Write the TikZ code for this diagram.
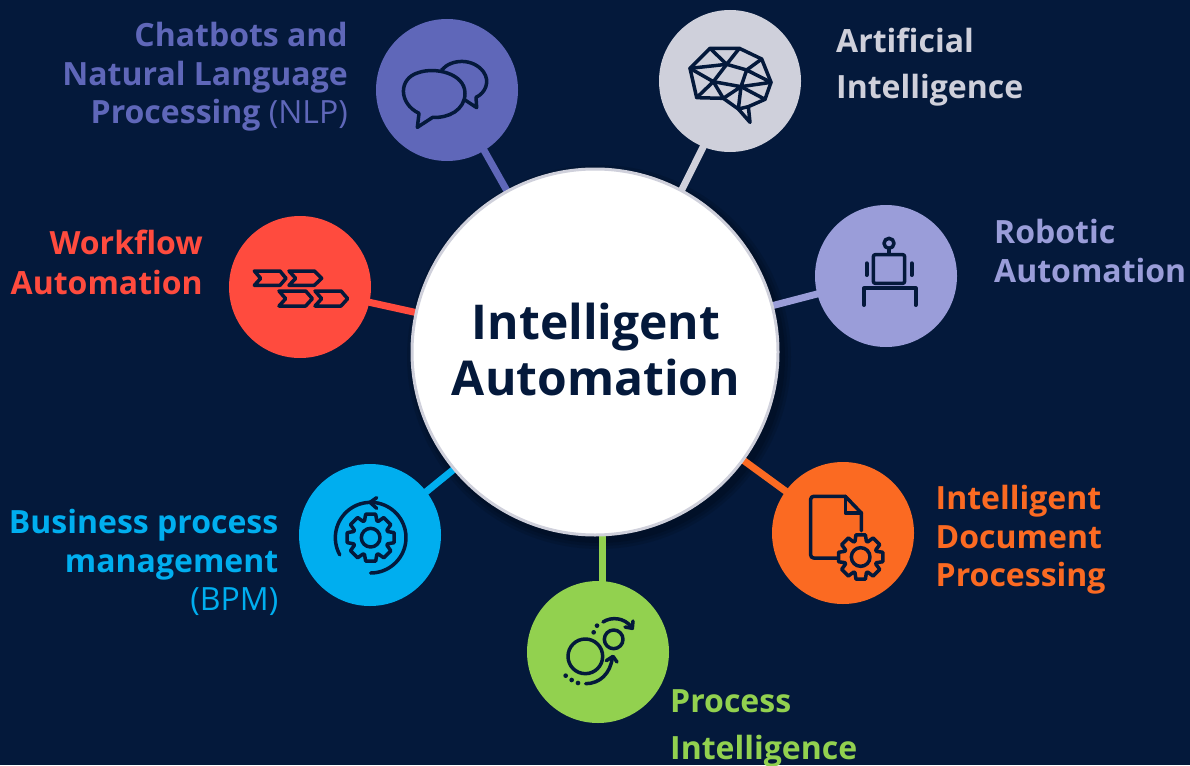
\documentclass[tikz,border=0pt]{standalone}
\usepackage{fontspec}
\setmainfont{Open Sans}
\usetikzlibrary{backgrounds}
\definecolor{bgc}{HTML}{04193B}
\definecolor{chatc}{HTML}{5F67B9}
\definecolor{aic}{HTML}{CFD0DB}
\definecolor{robc}{HTML}{9A9DD9}
\definecolor{wfc}{HTML}{FF4B3E}
\definecolor{bpmc}{HTML}{00AEEF}
\definecolor{pic}{HTML}{92D14F}
\definecolor{idpc}{HTML}{FB6A22}
\tikzset{
  x=1pt,y=-1pt,
  hub/.style={circle,minimum size=142pt,inner sep=0pt,outer sep=0pt,fill=#1},
  link/.style={line width=7pt,draw=#1},
  iconline/.style={draw=bgc,line width=3.5pt,line join=round,line cap=round},
  lbl/.style={font=\fontsize{32}{38.5}\selectfont\bfseries,inner sep=0pt,text=#1},
  icon/.style={shift={#1},scale=.33333}
}
\newcommand{\gearshape}[5]{%
  \draw[iconline,shift={(#1,#2)}] (-20:#4)
    \foreach \a in {0,45,...,315} { -- (\a-20:#4) -- (\a-12:#3) -- (\a+12:#3) -- (\a+20:#4) } -- cycle;
  \draw[iconline,shift={(#1,#2)}] (0,0) circle[radius=#5];
}
\begin{document}
\begin{tikzpicture}
\useasboundingbox (0,0) rectangle (1190,765);
\node[circle,minimum size=366pt,inner sep=0pt,outer sep=0pt,fill=white,draw=aic,line width=3pt] (c) at (595,352) {};
\node[align=center,text=bgc,inner sep=0pt,font=\fontsize{48}{56}\selectfont\bfseries] (ctext) at (596,349.5) {Intelligent\\Automation};
\node[hub=chatc] (chat) at (447,90) {};
\node[hub=aic] (ai) at (730,81) {};
\node[hub=robc] (rob) at (886,276) {};
\node[hub=wfc] (wf) at (300,287) {};
\node[hub=bpmc] (bpm) at (370,535) {};
\node[hub=pic] (pi) at (598,652) {};
\node[hub=idpc] (idp) at (843,533) {};
\begin{scope}[on background layer]
  \fill[bgc] (0,0) rectangle (1190,765);
  \foreach \o/\r in {.10/192,.10/189,.12/186}
    \fill[black,opacity=\o] ([xshift=4pt,yshift=-5pt]c.center) circle[radius=\r];
  \draw[link=chatc] ([xshift=3pt]c.center) -- ([xshift=3pt]chat.center);
  \draw[link=aic] ([xshift=6pt]c.center) -- ([xshift=6pt]ai.center);
  \draw[link=robc] (c.center) -- (rob.center);
  \draw[link=wfc] (c.center) -- (wf.center);
  \draw[link=bpmc] ([xshift=3pt]c.center) -- ([xshift=3pt]bpm.center);
  \draw[link=idpc] (c.center) -- (idp.center);
  \draw[link=pic] ([xshift=7pt]c.center) -- ([xshift=4pt]pi.center);
\end{scope}
% chat icon
\begin{scope}[icon={(370,10)}]
  \draw[iconline] (147,310) .. controls (85,280) and (85,205) .. (145,188)
     .. controls (195,170) and (285,190) .. (285,250)
     .. controls (285,300) and (235,325) .. (188,322) -- (142,352) -- cycle;
  \draw[iconline] (215,180) .. controls (245,145) and (310,145) .. (340,185)
     .. controls (362,215) and (345,250) .. (318,262) -- (320,293) -- (285,270);
\end{scope}
% brain icon
\begin{scope}[icon={(655,5)}]
  \draw[iconline] (105,190) -- (165,130) -- (253,130) -- (320,162) -- (348,232) -- (330,283) -- (280,305) -- (285,352) -- (250,312) -- (205,280) -- (125,278) -- cycle;
  \draw[iconline] (165,130) -- (215,178) -- (253,130);
  \draw[iconline] (105,190) -- (215,178) -- (275,195) -- (320,162);
  \draw[iconline] (275,195) -- (348,232) -- (258,245) -- (275,195);
  \draw[iconline] (105,190) -- (175,230) -- (215,178);
  \draw[iconline] (125,278) -- (175,230) -- (205,280) -- (258,245) -- (175,230);
  \draw[iconline] (258,245) -- (330,283);
  \draw[iconline] (258,245) -- (250,312) -- (280,305);
\end{scope}
% robot icon
\begin{scope}[icon={(810,200)}]
  \draw[iconline] (237,130) circle[radius=15];
  \draw[iconline] (237,146) -- (237,163);
  \draw[iconline,rounded corners=2pt] (190,164) rectangle (284,250);
  \draw[iconline,line width=4pt] (170,190) -- (170,225);
  \draw[iconline,line width=4pt] (305,190) -- (305,225);
  \draw[iconline,line width=4pt] (162,315) -- (162,265) -- (317,265) -- (317,315);
\end{scope}
% workflow icon
\begin{scope}[icon={(225,210)}]
  \draw[iconline] (88,183) -- (165,183) -- (183,205) -- (165,226) -- (88,226) -- (107,205) -- cycle;
  \draw[iconline] (192,183) -- (268,183) -- (290,205) -- (268,226) -- (192,226) -- (212,205) -- cycle;
  \draw[iconline] (162,243) -- (242,243) -- (262,266) -- (242,288) -- (162,288) -- (182,266) -- cycle;
  \draw[iconline] (270,243) -- (348,243) -- (368,266) -- (348,288) -- (270,288) -- (290,266) -- cycle;
\end{scope}
% bpm icon
\begin{scope}[icon={(295,460)}]
  \gearshape{227}{233}{72}{54}{28}
  \draw[iconline,shift={(227,233)}] plot[domain=90:-209,samples=60,smooth] (\x:106);
  \draw[iconline] (245,113) -- (225,127) -- (245,145);
\end{scope}
% process intelligence icon
\begin{scope}[icon={(523,577)}]
  \draw[iconline] (187,238) circle[radius=52];
  \draw[iconline] (272,187) circle[radius=28];
  \draw[iconline] (240,135) .. controls (265,118) and (305,122) .. (325,150);
  \draw[iconline] (330,132) -- (328,154) -- (306,150);
  \draw[iconline] (188,320) .. controls (230,320) and (262,290) .. (268,242);
  \draw[iconline] (250,251) -- (270,238) -- (282,255);
  \foreach \px/\py in {128/296,146/309,165/318,212/166,222/146}
    \fill[bgc] (\px,\py) circle[radius=7];
\end{scope}
% document icon
\begin{scope}[icon={(768,458)}]
  \draw[iconline,rounded corners=3pt] (208,300) -- (128,300) -- (128,115) -- (232,115);
  \draw[iconline] (232,115) -- (280,165) -- (280,218);
  \draw[iconline] (232,115) -- (232,165) -- (280,165);
  \gearshape{278}{297}{68}{50}{28}
\end{scope}
% labels
\node[lbl=chatc,anchor=east,align=right] (tchat) at (348,77) {Chatbots and\\Natural Language\\Processing {\mdseries(NLP)}};
\node[lbl=aic,anchor=west,align=left,font=\fontsize{32}{46}\selectfont\bfseries] (tai) at (836,67) {Artificial\\Intelligence};
\node[lbl=robc,anchor=west,align=left,font=\fontsize{32}{39.5}\selectfont\bfseries] (trob) at (994,251) {Robotic\\Automation};
\node[lbl=wfc,anchor=east,align=right,font=\fontsize{32}{40}\selectfont\bfseries] (twf) at (203,262) {Workflow\\Automation};
\node[lbl=bpmc,anchor=east,align=right] (tbpm) at (278.5,562.5) {Business process\\management\\{\mdseries(BPM)}};
\node[lbl=pic,anchor=west,align=left,font=\fontsize{32}{47}\selectfont\bfseries] (tpi) at (670,728) {Process\\Intelligence};
\node[lbl=idpc,anchor=west,align=left] (tidp) at (935.5,540) {Intelligent\\Document\\Processing};
\end{tikzpicture}
\end{document}
